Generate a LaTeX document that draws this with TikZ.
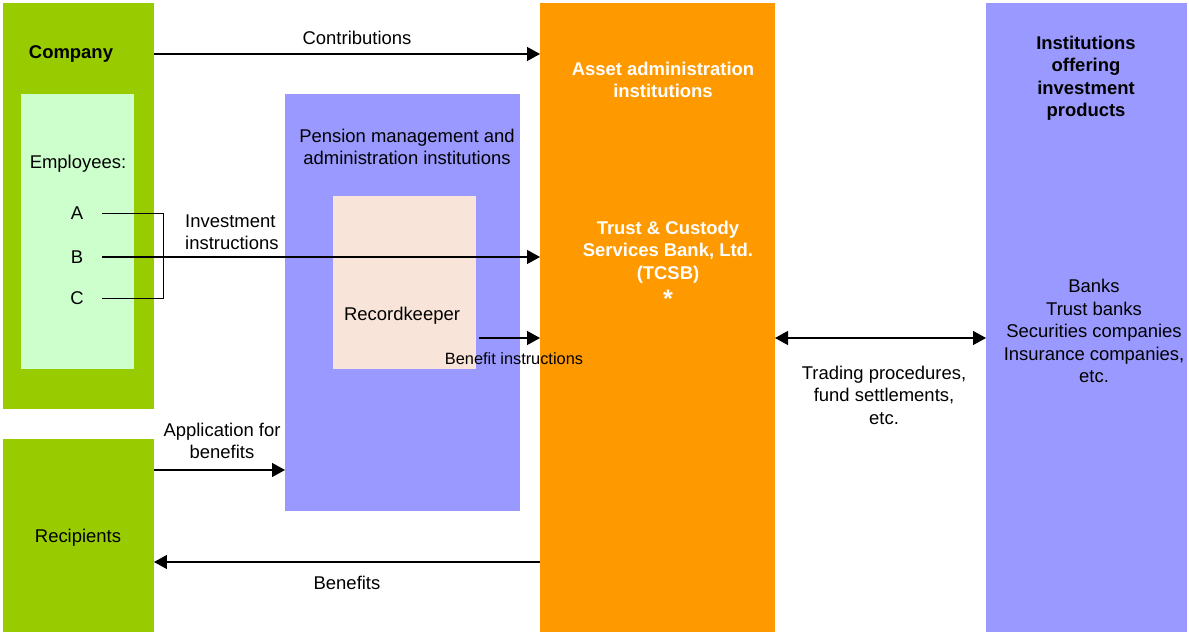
\documentclass[tikz,border=0pt]{standalone}
\usepackage{fontspec}
\setmainfont{Liberation Sans}
\usetikzlibrary{arrows.meta,fit}
\definecolor{leafgreen}{HTML}{99CC00}
\definecolor{mintgreen}{HTML}{CCFFCC}
\definecolor{lavender}{HTML}{9999FF}
\definecolor{peach}{HTML}{F8E4D8}
\definecolor{amber}{HTML}{FF9900}
\begin{document}
\begin{tikzpicture}[x=0.02cm,y=-0.02cm,
    font=\fontsize{10.5}{12.8}\selectfont,
    area/.style={inner sep=0,outer sep=0},
    letter/.style={minimum width=1cm,inner sep=0},
    arr/.style={-{Triangle[length=0.26cm,width=0.28cm]},line width=0.75pt},
    twoarr/.style={{Triangle[length=0.26cm,width=0.28cm]}-{Triangle[length=0.26cm,width=0.28cm]},line width=0.75pt}]
    \useasboundingbox (0,0) rectangle (1189,634);
    % boxes
    \node[area,fill=leafgreen,fit={(3,3) (154,409)}] (company) {};
    \node[area,fill=mintgreen,fit={(21,94) (134,369)}] (staff) {};
    \node[area,fill=leafgreen,fit={(3,439) (154,632)}] (recip) {};
    \node[area,fill=lavender,fit={(285,94) (520,511)}] (pension) {};
    \node[area,fill=peach,fit={(333,196) (476,369)}] (rk) {};
    \node[area,fill=amber,fit={(540,3) (775,632)}] (asset) {};
    \node[area,fill=lavender,fit={(986,3) (1187,632)}] (inst) {};
    % texts in boxes
    \node[font=\fontsize{10.5}{12.8}\selectfont\bfseries] (comptxt) at (71,54) {Company};
    \node at (78,164) {Employees:};
    \node[letter] (A) at (77,213) {A};
    \node[letter] (B) at (77,257) {B};
    \node[letter] (C) at (77,298) {C};
    \node at (78,538) {Recipients};
    \node[align=center] at (407,147) {Pension management and\\administration institutions};
    \node (rktxt) at (402,316) {Recordkeeper};
    \node[align=center,text=white,font=\fontsize{10.5}{12.8}\selectfont\bfseries] at (663,80) {Asset administration\\institutions};
    \node[align=center,text=white,font=\fontsize{10.5}{12.8}\selectfont\bfseries] at (668,264) {Trust \& Custody\\Services Bank, Ltd.\\(TCSB)\\[3pt]\Large *};
    \node[align=center,font=\fontsize{10.5}{12.8}\selectfont\bfseries] at (1086,78) {Institutions\\offering\\investment\\products};
    \node[align=center] at (1094,331) {Banks\\Trust banks\\Securities companies\\Insurance companies,\\etc.};
    % connectors
    \coordinate (ybi) at (0,338);
    \coordinate (yapp) at (0,470);
    \coordinate (yben) at (0,562);
    \draw[arr] (company.east |- comptxt) -- (asset.west |- comptxt);
    \node at (357,38) {Contributions};
    \draw[line width=0.5pt] (A.east) -- ++(61,0) |- (C.east);
    \draw[arr] (B.east) -- (B.east -| asset.west);
    \node[align=left,anchor=west] at (179,232) {Investment\\instructions};
    \draw[arr] ([xshift=0.06cm]rk.east |- ybi) -- (asset.west |- ybi);
    \node[font=\fontsize{9.3}{11}\selectfont] at (514,359) {Benefit instructions};
    \draw[twoarr] (asset.east |- ybi) -- (inst.west |- ybi);
    \node[align=center] at (884,395) {Trading procedures,\\fund settlements,\\etc.};
    \draw[arr] (recip.east |- yapp) -- (pension.west |- yapp);
    \node[align=center] at (222,441) {Application for\\benefits};
    \draw[arr] (asset.west |- yben) -- (recip.east |- yben);
    \node at (347,583) {Benefits};
\end{tikzpicture}
\end{document}
